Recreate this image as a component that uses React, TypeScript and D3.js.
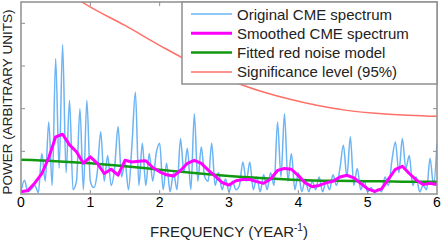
import React, { useEffect, useRef } from 'react';
import * as d3 from 'd3';

// frequency grid of the raw spectrum (year^-1), step 0.05
const rawStep = 0.05;
const rawPower = [
  0.05, 0.32, 0.05, 0.12, 0.2, 0.03, 0.95, 0.3, 1.69, 0.2,
  3.17, 0.6, 3.5, 0.5, 2.2, 0.1, 0.3, 2.0, 0.1, 2.2,
  0.3, 0.15, 0.5, 1.46, 0.3, 0.9, 0.2, 0.6, 1.58, 0.4,
  0.75, 0.1, 1.14, 2.39, 0.2, 1.19, 0.2, 0.95, 0.3, 0.95,
  1.19, 0.1, 0.72, 0.05, 0.5, 0.1, 1.3, 0.5, 1.07, 0.1,
  1.88, 0.3, 1.1, 0.4, 0.3, 1.19, 0.2, 0.5, 0.1, 0.35,
  0.05, 0.3, 0.1, 0.2, 0.75, 0.3, 0.75, 0.1, 0.4, 0.05,
  0.45, 0.1, 0.5, 0.2, 1.69, 0.4, 1.88, 0.3, 0.95, 0.1,
  0.5, 0.05, 0.35, 0.05, 0.3, 0.1, 0.4, 0.05, 0.3, 0.1,
  0.45, 0.2, 0.6, 1.14, 0.4, 1.34, 0.2, 0.6, 0.1, 0.3,
  0.05, 0.15, 0.03, 0.12, 0.05, 0.4, 0.2, 0.79, 1.22, 0.5,
  1.3, 0.6, 0.9, 0.2, 0.4, 0.05, 0.2, 0.1, 0.84, 0.2,
  1.19,
];

// smoothed spectrum, step 0.1
const smoothStep = 0.1;
const smoothPower = [
  0.05, 0.08, 0.26, 0.48, 0.85, 1.34, 1.4, 1.15, 0.99, 0.72,
  0.87, 0.72, 0.48, 0.58, 0.44, 0.79, 0.75, 0.77, 0.78, 0.62,
  0.52, 0.45, 0.42, 0.55, 0.72, 0.79, 0.72, 0.56, 0.42, 0.27,
  0.21, 0.31, 0.34, 0.34, 0.29, 0.25, 0.35, 0.55, 0.6, 0.58,
  0.43, 0.26, 0.17, 0.2, 0.26, 0.3, 0.4, 0.44, 0.38, 0.25,
  0.12, 0.06, 0.12, 0.35, 0.58, 0.65, 0.48, 0.33, 0.22, 0.25,
  0.22,
];

// red noise model and 95% significance level
const modelFreq = [0, 0.5, 1, 1.5, 2, 2.5, 3, 3.5, 4, 4.5, 5, 5.5, 6];
const modelPower = [0.8, 0.77, 0.72, 0.65, 0.57, 0.49, 0.42, 0.37, 0.33, 0.31, 0.3, 0.29, 0.29];
const sigFreq = [0, 0.5, 0.89, 1.5, 2.08, 2.5, 3.2, 3.88, 4.7, 5.3, 6];
const sigPower = [5.2, 4.95, 4.49, 3.95, 3.41, 3.05, 2.55, 2.22, 1.96, 1.87, 1.82];

const xTicks = [0, 1, 2, 3, 4, 5, 6];
const yTicks = [1, 2, 3, 4];

const legendItems = [
  { label: 'Original CME spectrum', color: '#6cb4f4', width: 1.5 },
  { label: 'Smoothed CME spectrum', color: '#ff00ff', width: 3 },
  { label: 'Fitted red noise model', color: '#119911', width: 2.5 },
  { label: 'Significance level (95%)', color: '#ff7068', width: 1.5 },
];

const font = '"Liberation Sans", Arial, Helvetica, sans-serif';

export default function App() {
  const svgRef = useRef<SVGSVGElement>(null);

  const width = 444;
  const height = 244;
  const margin = { top: 2, right: 7, bottom: 50, left: 21 };

  useEffect(() => {
    const svg = d3.select(svgRef.current);
    svg.selectAll('*').remove();

    const x = d3.scaleLinear().domain([0, 6]).range([margin.left, width - margin.right]);
    const y = d3.scaleLinear().domain([0, 4.5]).range([height - margin.bottom, margin.top]);
    const [x0, x1] = x.range();
    const [y0, y1] = y.range();

    svg.append('defs').append('clipPath').attr('id', 'plotclip')
      .append('rect').attr('x', x0).attr('y', y1).attr('width', x1 - x0).attr('height', y0 - y1);

    const plot = svg.append('g').attr('clip-path', 'url(#plotclip)');

    const rawData = rawPower.map((p, i) => [i * rawStep, p] as [number, number]);
    const smoothData = smoothPower.map((p, i) => [i * smoothStep, p] as [number, number]);
    const modelData = modelFreq.map((f, i) => [f, modelPower[i]] as [number, number]);
    const sigData = sigFreq.map((f, i) => [f, sigPower[i]] as [number, number]);

    const smoothLine = d3.line<[number, number]>()
      .x(d => x(d[0]))
      .y(d => y(d[1]))
      .curve(d3.curveMonotoneX);
    const straightLine = d3.line<[number, number]>()
      .x(d => x(d[0]))
      .y(d => y(d[1]));

    plot.append('path')
      .attr('d', smoothLine(rawData))
      .attr('fill', 'none').attr('stroke', legendItems[0].color).attr('stroke-width', 1.5);

    plot.append('path')
      .attr('d', smoothLine(modelData))
      .attr('fill', 'none').attr('stroke', legendItems[2].color).attr('stroke-width', 2.5);

    plot.append('path')
      .attr('d', straightLine(smoothData))
      .attr('fill', 'none').attr('stroke', legendItems[1].color).attr('stroke-width', 3)
      .attr('stroke-linejoin', 'round');

    plot.append('path')
      .attr('d', smoothLine(sigData))
      .attr('fill', 'none').attr('stroke', legendItems[3].color).attr('stroke-width', 1.5);

    // frame + inward ticks
    const frame = svg.append('g').attr('stroke', '#8f8f8f').attr('fill', 'none');
    frame.append('rect').attr('x', x0).attr('y', y1).attr('width', x1 - x0).attr('height', y0 - y1)
      .attr('stroke-width', 1.5);
    xTicks.slice(1, -1).forEach(t => {
      frame.append('line').attr('x1', x(t)).attr('x2', x(t)).attr('y1', y0).attr('y2', y0 - 4).attr('stroke-width', 1);
      frame.append('line').attr('x1', x(t)).attr('x2', x(t)).attr('y1', y1).attr('y2', y1 + 4).attr('stroke-width', 1);
    });
    yTicks.forEach(t => {
      frame.append('line').attr('x1', x0).attr('x2', x0 + 4).attr('y1', y(t)).attr('y2', y(t)).attr('stroke-width', 1);
      frame.append('line').attr('x1', x1).attr('x2', x1 - 4).attr('y1', y(t)).attr('y2', y(t)).attr('stroke-width', 1);
    });

    svg.append('g')
      .selectAll('text')
      .data(xTicks)
      .join('text')
      .attr('x', d => x(d))
      .attr('y', y0 + 13)
      .attr('text-anchor', 'middle')
      .attr('font-size', 14)
      .attr('font-family', font)
      .text(d => d);

    const xt = svg.append('text')
      .attr('x', (x0 + x1) / 2)
      .attr('y', 237)
      .attr('text-anchor', 'middle')
      .attr('font-size', 15)
      .attr('font-family', font)
      .attr('fill', '#222');
    xt.append('tspan').text('FREQUENCY (YEAR');
    xt.append('tspan').attr('font-size', 10).attr('dy', -6).text('-1');
    xt.append('tspan').attr('dy', 6).text(')');

    svg.append('text')
      .attr('transform', `translate(12,${(y0 + y1) / 2 + 4}) rotate(-90)`)
      .attr('text-anchor', 'middle')
      .attr('font-size', 13.5)
      .attr('font-family', font)
      .attr('fill', '#222')
      .text('POWER (ARBITRARY UNITS)');

    // legend
    const lg = svg.append('g');
    lg.append('rect')
      .attr('x', 182).attr('y', y1).attr('width', x1 - 182).attr('height', 82)
      .attr('fill', 'white').attr('stroke', '#8f8f8f').attr('stroke-width', 1.5);
    const row = lg.selectAll('g.item').data(legendItems).join('g')
      .attr('class', 'item')
      .attr('transform', (d, i) => `translate(0,${14 + i * 19.3})`);
    row.append('line')
      .attr('x1', 191).attr('x2', 232).attr('y1', 0).attr('y2', 0)
      .attr('stroke', d => d.color).attr('stroke-width', d => d.width);
    row.append('text')
      .attr('x', 237).attr('y', 5.5)
      .attr('font-size', 15)
      .attr('font-family', font)
      .attr('fill', '#222')
      .text(d => d.label);
  });

  return (
    <svg
      ref={svgRef}
      width={width}
      height={height}
      style={{ position: 'absolute', left: 0, top: 0, background: 'white' }}
    />
  );
}
